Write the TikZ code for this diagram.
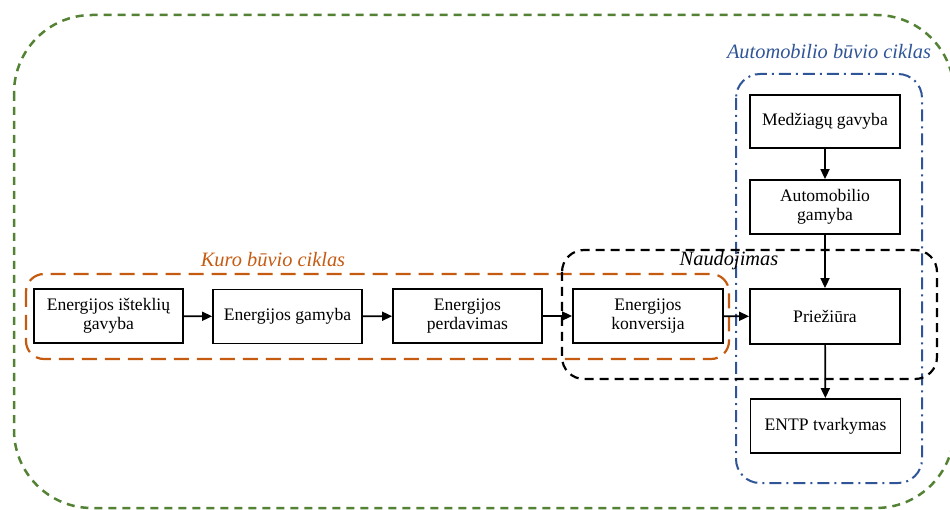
\documentclass[tikz,border=0pt]{standalone}
\usepackage{fontspec}
\setmainfont{Liberation Serif}
\usetikzlibrary{arrows.meta}
\definecolor{cycgreen}{RGB}{84,130,53}
\definecolor{cycorange}{RGB}{197,90,17}
\definecolor{cycblue}{RGB}{47,85,151}
\tikzset{
  stage/.style={draw=black, line width=1.8pt, fill=white, minimum height=54pt,
    minimum width=149pt, inner sep=0pt, align=center,
    font=\fontsize{17.6}{19.5}\selectfont},
  flow/.style={line width=1.7pt, -{Triangle[length=10pt,width=9pt]}},
  grouplabel/.style={font=\fontsize{20.4}{23}\selectfont\itshape},
}
\begin{document}
\begin{tikzpicture}[x=1pt,y=-1pt]
\useasboundingbox (0,0) rectangle (950,510);

% whole life cycle
\draw[cycgreen, line width=2.5pt, dash pattern=on 8pt off 6pt, rounded corners=78pt]
  (14,15) rectangle (954,508);

% vehicle life cycle
\draw[cycblue, line width=2pt, dash pattern=on 12pt off 5pt on 2pt off 5pt, rounded corners=24pt]
  (736,74) rectangle (922,483);
\node[grouplabel, text=cycblue] (autolbl) at (829,52) {Automobilio būvio ciklas};

% fuel life cycle
\draw[cycorange, line width=2.2pt, dash pattern=on 15pt off 8pt, rounded corners=18pt]
  (26,274) rectangle (729,359);
\node[grouplabel, text=cycorange] (fuellbl) at (273,260) {Kuro būvio ciklas};

% use phase
\draw[black, line width=2.2pt, dash pattern=on 9pt off 6pt, rounded corners=22pt]
  (562,250) rectangle (937,379);
\node[grouplabel, text=black] (uselbl) at (729,261) {Naudojimas};

% fuel chain
\node[stage] (res)  at (108.5,316) {Energijos išteklių\\gavyba};
\node[stage] (gen)  at (287.5,316.5) {Energijos gamyba};
\node[stage] (trans) at (467.5,316) {Energijos\\perdavimas};
\node[stage, minimum width=150pt] (conv) at (648,316) {Energijos\\konversija};

% vehicle chain
\node[stage, minimum width=150pt, minimum height=53pt] (mat)  at (825,121.5) {Medžiagų gavyba};
\node[stage, minimum width=150pt] (make) at (825,207) {Automobilio\\gamyba};
\node[stage, minimum width=150pt, minimum height=55pt] (maint) at (825,316.5) {Priežiūra};
\node[stage, minimum width=150pt] (eol)  at (825.5,426) {ENTP tvarkymas};

\draw[flow] (res) -- (gen);
\draw[flow] (gen) -- (trans);
\draw[flow] (trans) -- (conv);
\draw[flow] (conv) -- (maint);
\draw[flow] (mat) -- (make);
\draw[flow] (make) -- (maint);
\draw[flow] (maint) -- (eol);
\end{tikzpicture}
\end{document}
